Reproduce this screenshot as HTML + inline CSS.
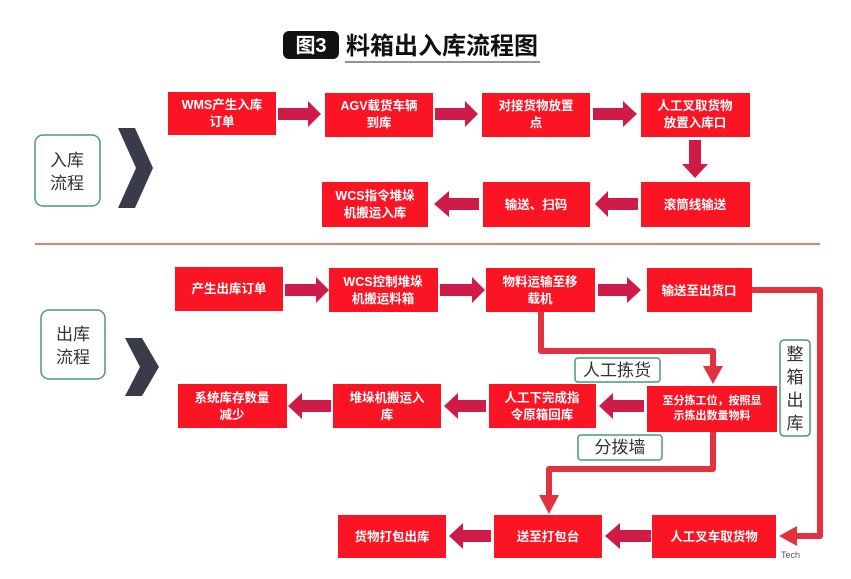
<!DOCTYPE html>
<html><head><meta charset="utf-8"><style>
body{margin:0;background:#fff;}
svg{display:block;font-family:"Liberation Sans","Noto Sans CJK SC",sans-serif;}
.b{fill:#fb1423;}
.t{fill:#fff;font-size:12.5px;font-weight:bold;text-anchor:middle;}
.a{fill:#cf1b48;}
.l{fill:#fff;stroke:#4a9a72;stroke-width:1.5;}
.lt{fill:#333;font-size:17px;text-anchor:middle;}
.rl{fill:none;stroke:#e3323f;stroke-width:6;stroke-linejoin:round;}
.ah{fill:#e3323f;}
</style></head><body>
<svg width="851" height="579" viewBox="0 0 851 579">
<rect x="283" y="31" width="56" height="28" rx="6" fill="#111"/>
<text x="311" y="52" fill="#fff" font-size="20" font-weight="bold" text-anchor="middle">图3</text>
<text x="346" y="54" fill="#111" font-size="24" font-weight="bold">料箱出入库流程图</text>
<line x1="345" y1="62" x2="540" y2="62" stroke="#555" stroke-width="1.2"/>

<rect class="l" x="35" y="135" width="65" height="71" rx="8"/>
<text class="lt" x="67" y="166">入库</text><text class="lt" x="67" y="189">流程</text>
<polygon points="118,128 135,128 153,168 135,208 118,208 136,168" fill="#3a3b4a"/>

<rect class="b" x="168" y="92" width="108" height="43"/>
<text class="t" x="222" y="109">WMS产生入库</text><text class="t" x="222" y="126">订单</text>
<rect class="b" x="325" y="93" width="108" height="44"/>
<text class="t" x="379" y="110">AGV载货车辆</text><text class="t" x="379" y="127">到库</text>
<rect class="b" x="482" y="93" width="108" height="44"/>
<text class="t" x="536" y="110">对接货物放置</text><text class="t" x="536" y="127">点</text>
<rect class="b" x="641" y="93" width="109" height="44"/>
<text class="t" x="695" y="110">人工叉取货物</text><text class="t" x="695" y="127">放置入库口</text>
<polygon class="a" points="278,108 308,108 308,101 321,114 308,127 308,120 278,120"/>
<polygon class="a" points="435,108 465,108 465,101 478,114 465,127 465,120 435,120"/>
<polygon class="a" points="593,108 623,108 623,101 637,114 623,127 623,120 593,120"/>
<polygon class="a" points="689,140 701,140 701,164 708,164 695,178 682,164 689,164"/>
<rect class="b" x="322" y="182" width="106" height="45"/>
<text class="t" x="375" y="200">WCS指令堆垛</text><text class="t" x="375" y="217">机搬运入库</text>
<rect class="b" x="483" y="182" width="107" height="45"/>
<text class="t" x="536" y="209">输送、扫码</text>
<rect class="b" x="641" y="182" width="109" height="45"/>
<text class="t" x="695" y="209">滚筒线输送</text>
<polygon class="a" points="638,198 608,198 608,191 595,204 608,217 608,210 638,210"/>
<polygon class="a" points="479,198 449,198 449,191 434,204 449,217 449,210 479,210"/>

<line x1="35" y1="244" x2="820" y2="244" stroke="#d9534f" stroke-width="1.5"/>

<rect class="l" x="41" y="310" width="64" height="69" rx="8"/>
<text class="lt" x="73" y="340">出库</text><text class="lt" x="73" y="363">流程</text>
<polygon points="125,338 142,338 159,367 142,396 125,396 140,367" fill="#3a3b4a"/>

<polyline class="rl" points="541,312 541,351 713,351 713,368"/>
<polygon class="ah" points="703,366 723,366 713,384"/>
<polyline class="rl" points="713,432 713,469 549,469 549,497"/>
<polygon class="ah" points="539,495 559,495 549,514"/>
<polyline class="rl" points="752,290 820,290 820,536 795,536"/>
<polygon class="ah" points="797,526 797,546 779,536"/>

<rect class="b" x="175" y="267" width="108" height="44"/>
<text class="t" x="229" y="293">产生出库订单</text>
<rect class="b" x="329" y="268" width="109" height="44"/>
<text class="t" x="383" y="286">WCS控制堆垛</text><text class="t" x="383" y="303">机搬运料箱</text>
<rect class="b" x="486" y="268" width="109" height="44"/>
<text class="t" x="540" y="286">物料运输至移</text><text class="t" x="540" y="303">载机</text>
<rect class="b" x="647" y="268" width="105" height="44"/>
<text class="t" x="699" y="295">输送至出货口</text>
<polygon class="a" points="285,284 316,284 316,277 329,290 316,303 316,296 285,296"/>
<polygon class="a" points="440,284 472,284 472,277 485,290 472,303 472,296 440,296"/>
<polygon class="a" points="598,284 627,284 627,277 641,290 627,303 627,296 598,296"/>

<rect class="l" x="575" y="358" width="85" height="24" rx="3"/>
<text class="lt" x="617" y="376">人工拣货</text>
<rect class="l" x="578" y="435" width="84" height="25" rx="3"/>
<text class="lt" x="620" y="453">分拨墙</text>
<rect class="l" x="780" y="340" width="30" height="96" rx="4"/>
<text class="lt" x="795" y="360">整</text><text class="lt" x="795" y="383">箱</text><text class="lt" x="795" y="406">出</text><text class="lt" x="795" y="429">库</text>

<rect class="b" x="178" y="384" width="109" height="44"/>
<text class="t" x="232" y="402">系统库存数量</text><text class="t" x="232" y="419">减少</text>
<rect class="b" x="333" y="384" width="108" height="44"/>
<text class="t" x="387" y="402">堆垛机搬运入</text><text class="t" x="387" y="419">库</text>
<rect class="b" x="489" y="384" width="107" height="44"/>
<text class="t" x="542" y="402">人工下完成指</text><text class="t" x="542" y="419">令原箱回库</text>
<rect class="b" x="647" y="386" width="130" height="46"/>
<text class="t" x="712" y="404" style="font-size:11px">至分拣工位，按照显</text><text class="t" x="712" y="419" style="font-size:11px">示拣出数量物料</text>
<polygon class="a" points="644,400 613,400 613,393 599,406 613,419 613,412 644,412"/>
<polygon class="a" points="486,400 458,400 458,393 444,406 458,419 458,412 486,412"/>
<polygon class="a" points="331,400 302,400 302,393 288,406 302,419 302,412 331,412"/>

<rect class="b" x="338" y="515" width="108" height="43"/>
<text class="t" x="392" y="541">货物打包出库</text>
<rect class="b" x="494" y="515" width="108" height="43"/>
<text class="t" x="548" y="541">送至打包台</text>
<rect class="b" x="652" y="515" width="124" height="43"/>
<text class="t" x="714" y="541">人工叉车取货物</text>
<polygon class="a" points="651,530 620,530 620,523 605,536 620,549 620,542 651,542"/>
<polygon class="a" points="491,530 463,530 463,523 449,536 463,549 463,542 491,542"/>
<text x="781" y="558" font-size="9" fill="#555">Tech</text>
</svg>
</body></html>
